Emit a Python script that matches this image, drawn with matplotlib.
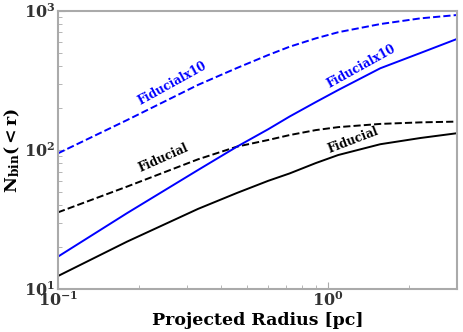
import matplotlib
matplotlib.use("Agg")
import matplotlib.pyplot as plt
from matplotlib.ticker import FuncFormatter
import numpy as np

plt.rcParams['font.family'] = ['DejaVu Serif']
plt.rcParams['mathtext.fontset'] = 'dejavuserif'

radius = [0.1, 0.18, 0.33, 0.46, 0.6, 0.72, 0.9, 1.09, 1.56, 2.2, 3.0]
fid_solid = [12.4, 21.9, 37.7, 49.1, 60.0, 67.8, 80.5, 92.0, 110.0, 122.0, 132.0]
fid_dashed = [35.6, 54.5, 85.7, 105.7, 118.0, 128.0, 139.0, 146.0, 154.0, 158.0, 160.0]
x10_solid = [17.1, 35.1, 71.8, 105.7, 141.0, 174.0, 221.0, 270.0, 387.0, 499.0, 629.0]
x10_dashed = [94.6, 164.0, 294.0, 389.0, 482.0, 553.0, 635.0, 703.0, 805.0, 885.0, 935.0]

labels = ["Fiducial", "Fiducialx10"]

fig = plt.figure(figsize=(4.63, 3.32), dpi=100)
ax = fig.add_axes([0.1253, 0.1295, 0.8617, 0.8375])

ax.plot(radius, fid_solid, color='black', lw=1.4)
ax.plot(radius, fid_dashed, color='black', lw=1.4, ls='--')
ax.plot(radius, x10_solid, color='blue', lw=1.4)
ax.plot(radius, x10_dashed, color='blue', lw=1.4, ls='--')

ax.set_xscale('log')
ax.set_yscale('log')
ax.set_xlim(0.1, 3.0)
ax.set_ylim(10, 1000)

tf = dict(fontsize=8.5, fontweight='bold', ha='center', va='center', transform=ax.transData)
ax.text(0.264, 299, labels[1], color='blue', rotation=29, **tf)
ax.text(0.245, 87.5, labels[0], color='black', rotation=24, **tf)
ax.text(1.324, 402, labels[1], color='blue', rotation=29, **tf)
ax.text(1.238, 118, labels[0], color='black', rotation=21, **tf)

ax.set_xlabel('Projected Radius [pc]', fontsize=12.5, fontweight='bold', labelpad=1)
ax.set_ylabel(r'$\mathbf{N_{bin}(<r)}$', fontsize=12.5, labelpad=1)

fmt = FuncFormatter(lambda v, p: r'$\mathbf{10^{%d}}$' % int(round(np.log10(v))))
ax.xaxis.set_major_formatter(fmt)
ax.yaxis.set_major_formatter(fmt)

for s in ax.spines.values():
    s.set_color('#aaaaaa')
    s.set_linewidth(1.5)
ax.tick_params(which='both', direction='in', colors='#aaaaaa', labelcolor='#333333', labelsize=11.5, pad=2)
ax.tick_params(which='major', length=5)
ax.tick_params(which='minor', length=3)

fig.savefig('out.png', dpi=100)
